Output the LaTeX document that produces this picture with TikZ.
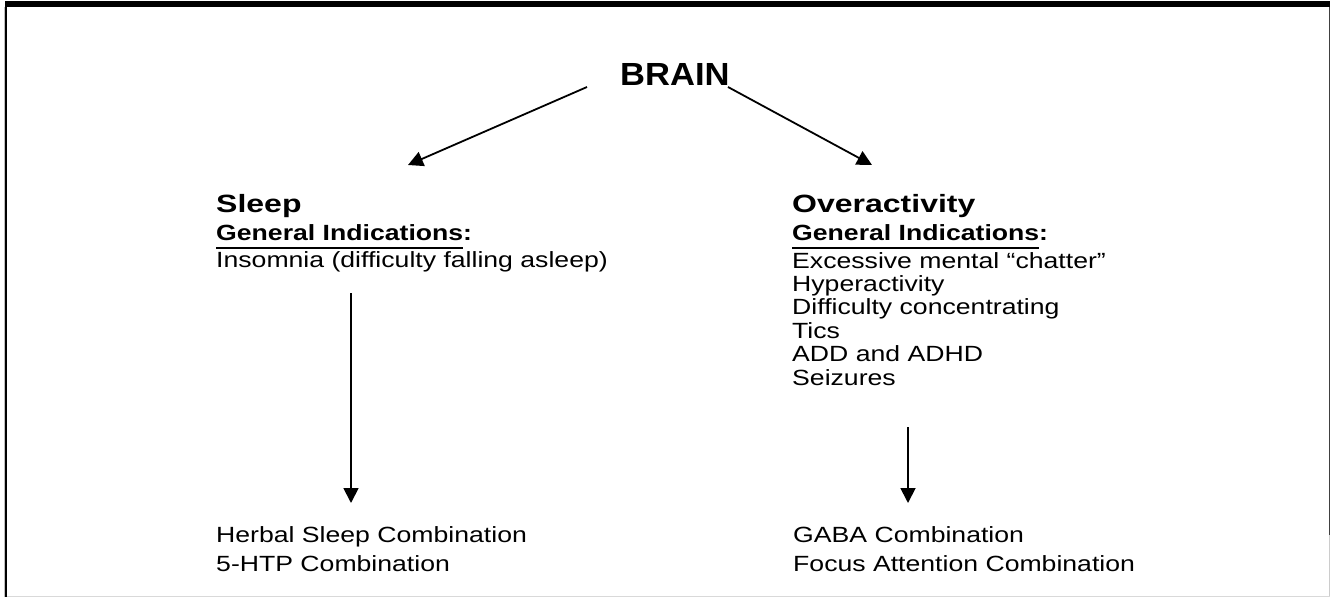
\documentclass[tikz,border=0pt]{standalone}
\usepackage{fontspec}
\setmainfont{Liberation Sans}
\newfontfamily\bodyf{Liberation Sans}[FakeStretch=1.21]
\newfontfamily\headf{Liberation Sans}[FakeStretch=1.28]
\newfontfamily\brainf{Liberation Sans}[FakeStretch=1.08]
\usetikzlibrary{arrows.meta}
\newcommand\myul[1]{\setbox0=\hbox{#1}\rlap{\rule[-8.6pt]{\wd0}{1.6pt}}\copy0}
\begin{document}
\begin{tikzpicture}[x=1pt,y=-1pt,
  txt/.style={anchor=base west, inner sep=0pt, font=\bodyf\fontsize{22}{26}\selectfont},
  headtxt/.style={anchor=base west, inner sep=0pt, font=\headf\fontsize{25}{29}\selectfont\bfseries},
  gitxt/.style={anchor=base west, inner sep=0pt, font=\bodyf\fontsize{22}{26}\selectfont\bfseries},
  arr/.style={line width=1.8pt, -{Triangle[length=15pt,width=15pt]}},
  frame/.style={line width=#1, black}
]
\useasboundingbox (0,0) rectangle (1330,597);
% frame
\draw[frame=6pt] (5,4) -- (1330,4);
\draw[line width=1pt, black!25] (4.5,7) -- (4.5,597);
\draw[frame=2pt] (6,1) -- (6,597);
\draw[line width=1pt, black!75] (1329.5,7) -- (1329.5,535);
\draw[line width=1pt, black!20] (1329.5,535) -- (1329.5,597);
\draw[line width=1pt, black!15] (7,596.5) -- (1330,596.5);

% title
\node[anchor=base west, inner sep=0pt, font=\brainf\fontsize{32}{38}\selectfont\bfseries] (brain) at (620,85) {BRAIN};
\coordinate (bl) at (587,87);
\coordinate (br) at (728,87);
\coordinate (tl) at (408,165);
\coordinate (tr) at (872,165);

% left column
\node[headtxt] (sleep) at (216,212) {Sleep};
\node[gitxt] (gil) at (216,240) {\myul{General Indications}:};
\node[txt] (ins) at (216,267) {Insomnia (difficulty falling asleep)};
\node[txt] (herb) at (216,542) {Herbal Sleep Combination};
\node[txt] (htp) at (216,571) {5-HTP Combination};

% right column
\node[headtxt] (over) at (792,212) {Overactivity};
\node[gitxt] (gir) at (792,240) {\myul{General Indications}:};
\node[txt] (r1) at (792,268) {Excessive mental “chatter”};
\node[txt] (r2) at (792,291.4) {Hyperactivity};
\node[txt] (r3) at (792,314.8) {Difficulty concentrating};
\node[txt] (r4) at (792,338.2) {Tics};
\node[txt] (r5) at (792,361.6) {ADD and ADHD};
\node[txt] (r6) at (792,385) {Seizures};
\node[txt] (gaba) at (793,542) {GABA Combination};
\node[txt] (focus) at (793,571) {Focus Attention Combination};

% connectors
\coordinate (ls) at (351,293);
\coordinate (le) at (351,503);
\coordinate (rs) at (908,427);
\coordinate (re) at (908,503);
\draw[arr] (bl) -- (tl);
\draw[arr] (br) -- (tr);
\draw[arr] (ls) -- (le);
\draw[arr] (rs) -- (re);
\end{tikzpicture}
\end{document}
